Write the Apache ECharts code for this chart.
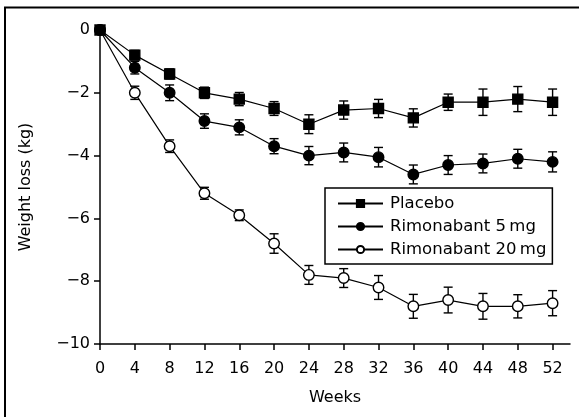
<!DOCTYPE html>
<html>
<head>
<meta charset="utf-8">
<script src="https://cdn.jsdelivr.net/npm/echarts@6/dist/echarts.min.js"></script>
<style>
  html, body { margin: 0; padding: 0; background: #fff; }
  #chart { width: 579px; height: 417px; }
</style>
</head>
<body>
<div id="chart"></div>
<script>
// Mean weight change over one year of treatment (mean ± SE)
const weeks = [0, 4, 8, 12, 16, 20, 24, 28, 32, 36, 40, 44, 48, 52];
const weekTicks = [0, 4, 8, 12, 16, 20, 24, 28, 32, 36, 40, 44, 48, 52];
const lossTicks = [0, -2, -4, -6, -8, -10];

const placebo    = [0, -0.8, -1.4, -2.0, -2.2, -2.5, -3.0, -2.55, -2.5, -2.8, -2.3, -2.3, -2.2, -2.3];
const placeboErr = [0, 0.15, 0.16, 0.18, 0.21, 0.22, 0.3, 0.29, 0.29, 0.29, 0.26, 0.42, 0.4, 0.42];

const dose5    = [0, -1.2, -2.0, -2.9, -3.1, -3.7, -4.0, -3.9, -4.05, -4.6, -4.3, -4.25, -4.1, -4.2];
const dose5Err = [0, 0.2, 0.25, 0.23, 0.24, 0.24, 0.29, 0.3, 0.31, 0.3, 0.3, 0.3, 0.3, 0.32];

const dose20    = [0, -2.0, -3.7, -5.2, -5.9, -6.8, -7.8, -7.9, -8.2, -8.8, -8.6, -8.8, -8.8, -8.7];
const dose20Err = [0, 0.21, 0.2, 0.19, 0.17, 0.31, 0.3, 0.3, 0.38, 0.38, 0.41, 0.41, 0.37, 0.4];

const FONT = 'DejaVu Sans';

function pairs(ys) { return weeks.map((w, i) => [w, ys[i]]); }
function errRows(ys, es) { return weeks.map((w, i) => [w, ys[i] - es[i], ys[i] + es[i], es[i]]); }

// Vertical error bar with caps, drawn through the axes' scales
function errorBar(params, api) {
  if (api.value(3) === 0) return null;
  const lo = api.coord([api.value(0), api.value(1)]);
  const hi = api.coord([api.value(0), api.value(2)]);
  const cap = 4.5;
  const style = { stroke: '#000', lineWidth: 1.4 };
  return {
    type: 'group',
    children: [
      { type: 'line', shape: { x1: lo[0], y1: lo[1], x2: hi[0], y2: hi[1] }, style },
      { type: 'line', shape: { x1: lo[0] - cap, y1: lo[1], x2: lo[0] + cap, y2: lo[1] }, style },
      { type: 'line', shape: { x1: hi[0] - cap, y1: hi[1], x2: hi[0] + cap, y2: hi[1] }, style }
    ]
  };
}

function lineSeries(name, ys, symbol, size, fill, z) {
  return {
    name, type: 'line', data: pairs(ys), z,
    symbol, symbolSize: size, showAllSymbol: true,
    lineStyle: { color: '#000', width: 1.2 },
    itemStyle: { color: fill, borderColor: '#000', borderWidth: 1.4, opacity: 1 },
    emphasis: { disabled: true },
    animation: false
  };
}

function errSeries(ys, es, z) {
  return {
    type: 'custom', data: errRows(ys, es), renderItem: errorBar, z,
    encode: { x: 0, y: [1, 2] }, silent: true, animation: false
  };
}

const chart = echarts.init(document.getElementById('chart'), null, { renderer: 'canvas' });
chart.setOption({
  backgroundColor: '#fff',
  animation: false,
  textStyle: { fontFamily: FONT, color: '#000' },
  grid: { left: 100, right: 9, top: 30, bottom: 73, containLabel: false },
  xAxis: {
    type: 'value', min: 0, max: 54,
    name: 'Weeks', nameLocation: 'middle', nameGap: 46,
    nameTextStyle: { fontFamily: FONT, fontSize: 16, color: '#000' },
    axisLine: { show: true, onZero: false, lineStyle: { color: '#000', width: 1.5 } },
    axisTick: { show: true, length: 6, lineStyle: { color: '#000', width: 1.5 }, customValues: weekTicks },
    axisLabel: { fontFamily: FONT, fontSize: 16, color: '#000', margin: 17, customValues: weekTicks },
    splitLine: { show: false }
  },
  yAxis: {
    type: 'value', min: -10, max: 0, interval: 2,
    name: 'Weight loss (kg)', nameLocation: 'middle', nameGap: 66, nameRotate: 90,
    nameTextStyle: { fontFamily: FONT, fontSize: 16, color: '#000' },
    axisLine: { show: true, onZero: false, lineStyle: { color: '#000', width: 1.5 } },
    axisTick: { show: true, length: 6, lineStyle: { color: '#000', width: 1.5 }, customValues: lossTicks },
    axisLabel: {
      fontFamily: FONT, fontSize: 16, color: '#000', margin: 10, customValues: lossTicks,
      formatter: v => String(v).replace('-', '\u2212')
    },
    splitLine: { show: false }
  },
  legend: {
    orient: 'vertical', left: 325, top: 188,
    data: ['Placebo', 'Rimonabant 5\u2009mg', 'Rimonabant 20\u2009mg'],
    itemWidth: 45, itemHeight: 9, itemGap: 6,
    padding: [7, 6, 6, 12],
    borderColor: '#000', borderWidth: 1.5, backgroundColor: '#fff',
    textStyle: { fontFamily: FONT, fontSize: 16.5, color: '#000', padding: [0, 0, 0, 2] },
    selectedMode: false
  },
  series: [
    errSeries(dose20, dose20Err, 1),
    errSeries(dose5, dose5Err, 1),
    errSeries(placebo, placeboErr, 1),
    lineSeries('Rimonabant 20\u2009mg', dose20, 'circle', 10.5, '#fff', 3),
    lineSeries('Rimonabant 5\u2009mg', dose5, 'circle', 10.5, '#000', 4),
    lineSeries('Placebo', placebo, 'rect', 10, '#000', 5)
  ],
  graphic: [
    // frame around the figure (left and top edges)
    { type: 'polyline', shape: { points: [[5, 420], [5, 7.5], [582, 7.5]] },
      style: { stroke: '#000', lineWidth: 2, fill: null }, silent: true }
  ]
});
</script>
</body>
</html>
